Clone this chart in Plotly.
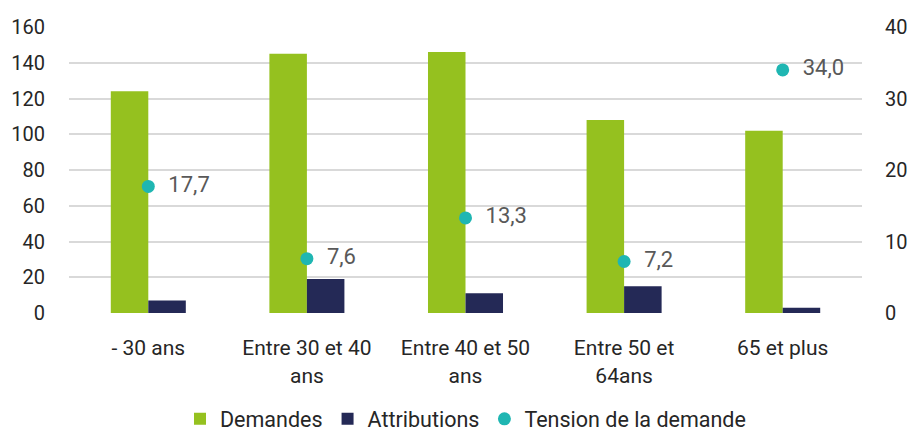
import plotly.graph_objects as go

categories = ["- 30 ans", "Entre 30 et 40<br>ans", "Entre 40 et 50<br>ans", "Entre 50 et<br>64ans", "65 et plus"]
demandes = [124, 145, 146, 108, 102]
attributions = [7, 19, 11, 15, 3]
tension = [17.7, 7.6, 13.3, 7.2, 34.0]

GREEN = "#95C11F"
NAVY = "#242956"
TEAL = "#1FB6B2"
FONT = "Roboto"

fig = go.Figure()
fig.add_trace(go.Bar(x=categories, y=demandes, name="Demandes", marker_color=GREEN,
                     marker_line_width=0))
fig.add_trace(go.Bar(x=categories, y=attributions, name="Attributions", marker_color=NAVY,
                     marker_line_width=0))
fig.add_trace(go.Scatter(
    x=categories, y=tension, name="Tension de la demande", yaxis="y2",
    mode="markers+text", marker=dict(color=TEAL, size=13),
    text=["  " + f"{v:.1f}".replace(".", ",") for v in tension],
    textposition="middle right",
    textfont=dict(family=FONT, size=22, color="#595959"),
))

fig.update_layout(
    width=911, height=433,
    margin=dict(l=69, r=49, t=27, b=120, autoexpand=False),
    plot_bgcolor="white", paper_bgcolor="white",
    font=dict(family=FONT, size=20, color="#262626"),
    barmode="group", bargap=0.527, bargroupgap=0,
    xaxis=dict(showgrid=False, showline=False, ticks="outside", ticklen=16,
               tickcolor="rgba(0,0,0,0)", tickfont=dict(size=21)),
    yaxis=dict(range=[0, 160], dtick=20, showgrid=True, gridcolor="#D9D9D9", gridwidth=1.5,
               zeroline=False, ticks="outside", ticklen=19, tickcolor="rgba(0,0,0,0)",
               tickfont=dict(size=20)),
    yaxis2=dict(range=[0, 40], dtick=10, overlaying="y", side="right", showgrid=False,
                zeroline=False, ticks="outside", ticklen=18, tickcolor="rgba(0,0,0,0)",
                tickfont=dict(size=20)),
    legend=dict(orientation="h", x=0.5, xanchor="center", y=-0.37, yanchor="middle",
                font=dict(size=21.5), itemwidth=30, traceorder="normal"),
    showlegend=True,
)

fig.write_html("out.html", config={"displayModeBar": False},
               post_script="document.body.style.margin='0';")
